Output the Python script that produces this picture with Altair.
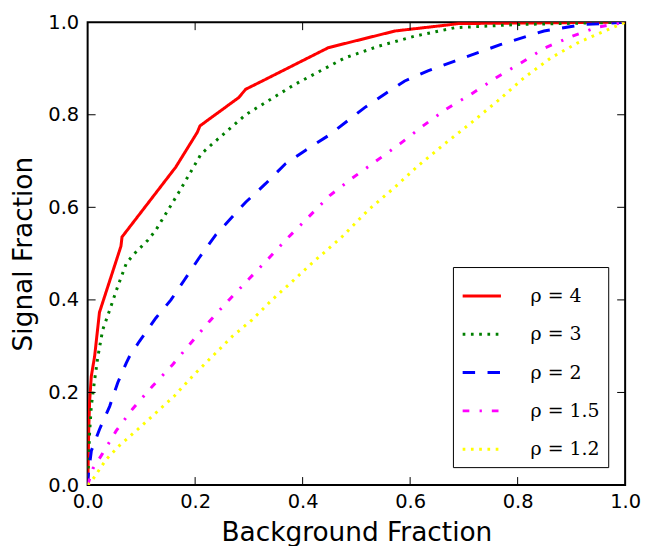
import altair as alt
import pandas as pd

# ---- data ----
labels = ["ρ = 4", "ρ = 3", "ρ = 2", "ρ = 1.5", "ρ = 1.2"]
colors = ["#ff0000", "#007f00", "#0000ff", "#ff00ff", "#ffff00"]
dashes = [[1, 0], [2.7, 5.6], [12.5, 12.5], [6.7, 10.3, 2.3, 10], [2.7, 5.6]]

r4_x = [0.0, 0.0006, 0.002, 0.0037, 0.0068, 0.013, 0.022, 0.062, 0.064, 0.164, 0.204, 0.209,
        0.281, 0.294, 0.325, 0.448, 0.572, 0.670, 0.689, 1.0]
r4_y = [0.0, 0.017, 0.12, 0.18, 0.235, 0.278, 0.373, 0.516, 0.536, 0.687, 0.762, 0.776,
        0.837, 0.855, 0.873, 0.945, 0.981, 0.994, 0.997, 1.0]

r3_x = [0.0, 0.0037, 0.0068, 0.013, 0.019, 0.028, 0.041, 0.056, 0.072, 0.087, 0.112, 0.127,
        0.170, 0.211, 0.232, 0.294, 0.386, 0.479, 0.541, 0.609, 0.683, 0.80, 1.0]
r3_y = [0.0, 0.114, 0.17, 0.227, 0.277, 0.335, 0.378, 0.429, 0.479, 0.50, 0.529, 0.551,
        0.633, 0.715, 0.737, 0.80, 0.866, 0.923, 0.948, 0.970, 0.988, 0.995, 1.0]

r2_x = [0.0, 0.001, 0.0069, 0.022, 0.041, 0.056, 0.072, 0.078, 0.096, 0.127, 0.155, 0.18,
        0.207, 0.238, 0.294, 0.331, 0.368, 0.405, 0.448, 0.516, 0.553, 0.590, 0.633, 0.683,
        0.769, 0.849, 0.923, 1.0]
r2_y = [0.0, 0.02, 0.074, 0.12, 0.17, 0.221, 0.264, 0.278, 0.31, 0.361, 0.40, 0.443,
        0.49, 0.54, 0.611, 0.651, 0.694, 0.723, 0.755, 0.816, 0.845, 0.873, 0.895, 0.916,
        0.952, 0.981, 0.995, 1.0]

r15_x = [0.0, 0.010, 0.025, 0.053, 0.084, 0.121, 0.158, 0.192, 0.226, 0.263, 0.30,
         0.337, 0.374, 0.411, 0.451, 0.491, 0.538, 0.581, 0.624, 0.667, 0.714, 0.760,
         0.806, 0.852, 0.902, 0.948, 1.0]
r15_y = [0.0, 0.036, 0.063, 0.117, 0.165, 0.214, 0.260, 0.307, 0.353, 0.40, 0.445,
         0.49, 0.536, 0.579, 0.626, 0.662, 0.701, 0.737, 0.776, 0.812, 0.845, 0.880,
         0.912, 0.945, 0.970, 0.989, 1.0]

r12_x = [0.0, 0.010, 0.035, 0.059, 0.093, 0.127, 0.161, 0.195, 0.232, 0.269, 0.306,
         0.343, 0.380, 0.417, 0.473, 0.522, 0.572, 0.615, 0.664, 0.714, 0.763, 0.812,
         0.862, 0.911, 0.954, 1.0]
r12_y = [0.0, 0.013, 0.056, 0.085, 0.120, 0.156, 0.192, 0.235, 0.278, 0.321, 0.357,
         0.40, 0.439, 0.479, 0.536, 0.594, 0.644, 0.690, 0.737, 0.783, 0.830, 0.880,
         0.923, 0.955, 0.977, 1.0]

tick_values = [0.2, 0.4, 0.6, 0.8]
axis_values = [0.0, 0.2, 0.4, 0.6, 0.8, 1.0]

series = [(r4_x, r4_y), (r3_x, r3_y), (r2_x, r2_y), (r15_x, r15_y), (r12_x, r12_y)]
rows = []
for lab, (xs, ys) in zip(labels, series):
    for i, (a, b) in enumerate(zip(xs, ys)):
        rows.append({"x": a, "y": b, "rho": lab, "i": i})
df = pd.DataFrame(rows)
ticks = pd.DataFrame({"x": tick_values, "y": tick_values})

W, H = 540, 465
xscale = alt.Scale(domain=[0, 1], nice=False, zero=False)
yscale = alt.Scale(domain=[0, 1], nice=False, zero=False)

axis_style = dict(labelFont="DejaVu Sans", labelFontSize=19.5, labelColor="black",
                  titleFont="DejaVu Sans", titleFontSize=26.5, titleFontWeight="normal",
                  titleColor="black")
xaxis = alt.Axis(values=axis_values, format=".1f", ticks=False, domain=False, grid=False,
                 labelFlush=False, labelOverlap=False, labelPadding=8,
                 title="Background Fraction", titlePadding=8, **axis_style)
yaxis = alt.Axis(values=axis_values, format=".1f", ticks=False, domain=False, grid=False,
                 labelFlush=False, labelOverlap=False, labelPadding=9,
                 title="Signal Fraction", titlePadding=10, **axis_style)

legend = alt.Legend(orient="none", legendX=367, legendY=246, title=None,
                    symbolType="stroke", symbolSize=1480, symbolStrokeWidth=3,
                    labelFont="DejaVu Serif", labelFontSize=19, labelOffset=28,
                    labelColor="black", strokeColor="black", fillColor="white",
                    padding=8, rowPadding=7.5)

lines = alt.Chart(df).mark_line(strokeWidth=3, strokeCap="butt", clip=True).encode(
    x=alt.X("x:Q", scale=xscale, axis=xaxis),
    y=alt.Y("y:Q", scale=yscale, axis=yaxis),
    color=alt.Color("rho:N", scale=alt.Scale(domain=labels, range=colors), legend=legend),
    strokeDash=alt.StrokeDash("rho:N", scale=alt.Scale(domain=labels, range=dashes), legend=legend),
    order="i:Q",
)

base_t = alt.Chart(ticks).mark_rule(color="black", strokeWidth=1)
xt_bottom = base_t.encode(x=alt.X("x:Q", scale=xscale, axis=xaxis), y=alt.value(H), y2=alt.value(H - 8))
xt_top = base_t.encode(x=alt.X("x:Q", scale=xscale, axis=xaxis), y=alt.value(0), y2=alt.value(8))
yt_left = base_t.encode(y=alt.Y("y:Q", scale=yscale, axis=yaxis), x=alt.value(0), x2=alt.value(8))
yt_right = base_t.encode(y=alt.Y("y:Q", scale=yscale, axis=yaxis), x=alt.value(W), x2=alt.value(W - 8))

chart = alt.layer(lines, xt_bottom, xt_top, yt_left, yt_right).properties(
    width=W, height=H,
    background="white",
    autosize=alt.AutoSizeParams(type="none"),
    padding={"left": 80, "top": 13, "right": 30, "bottom": 60},
).configure_view(
    stroke="black", strokeWidth=2
)

chart.save("out.html", embed_options={"renderer": "svg", "actions": False})
